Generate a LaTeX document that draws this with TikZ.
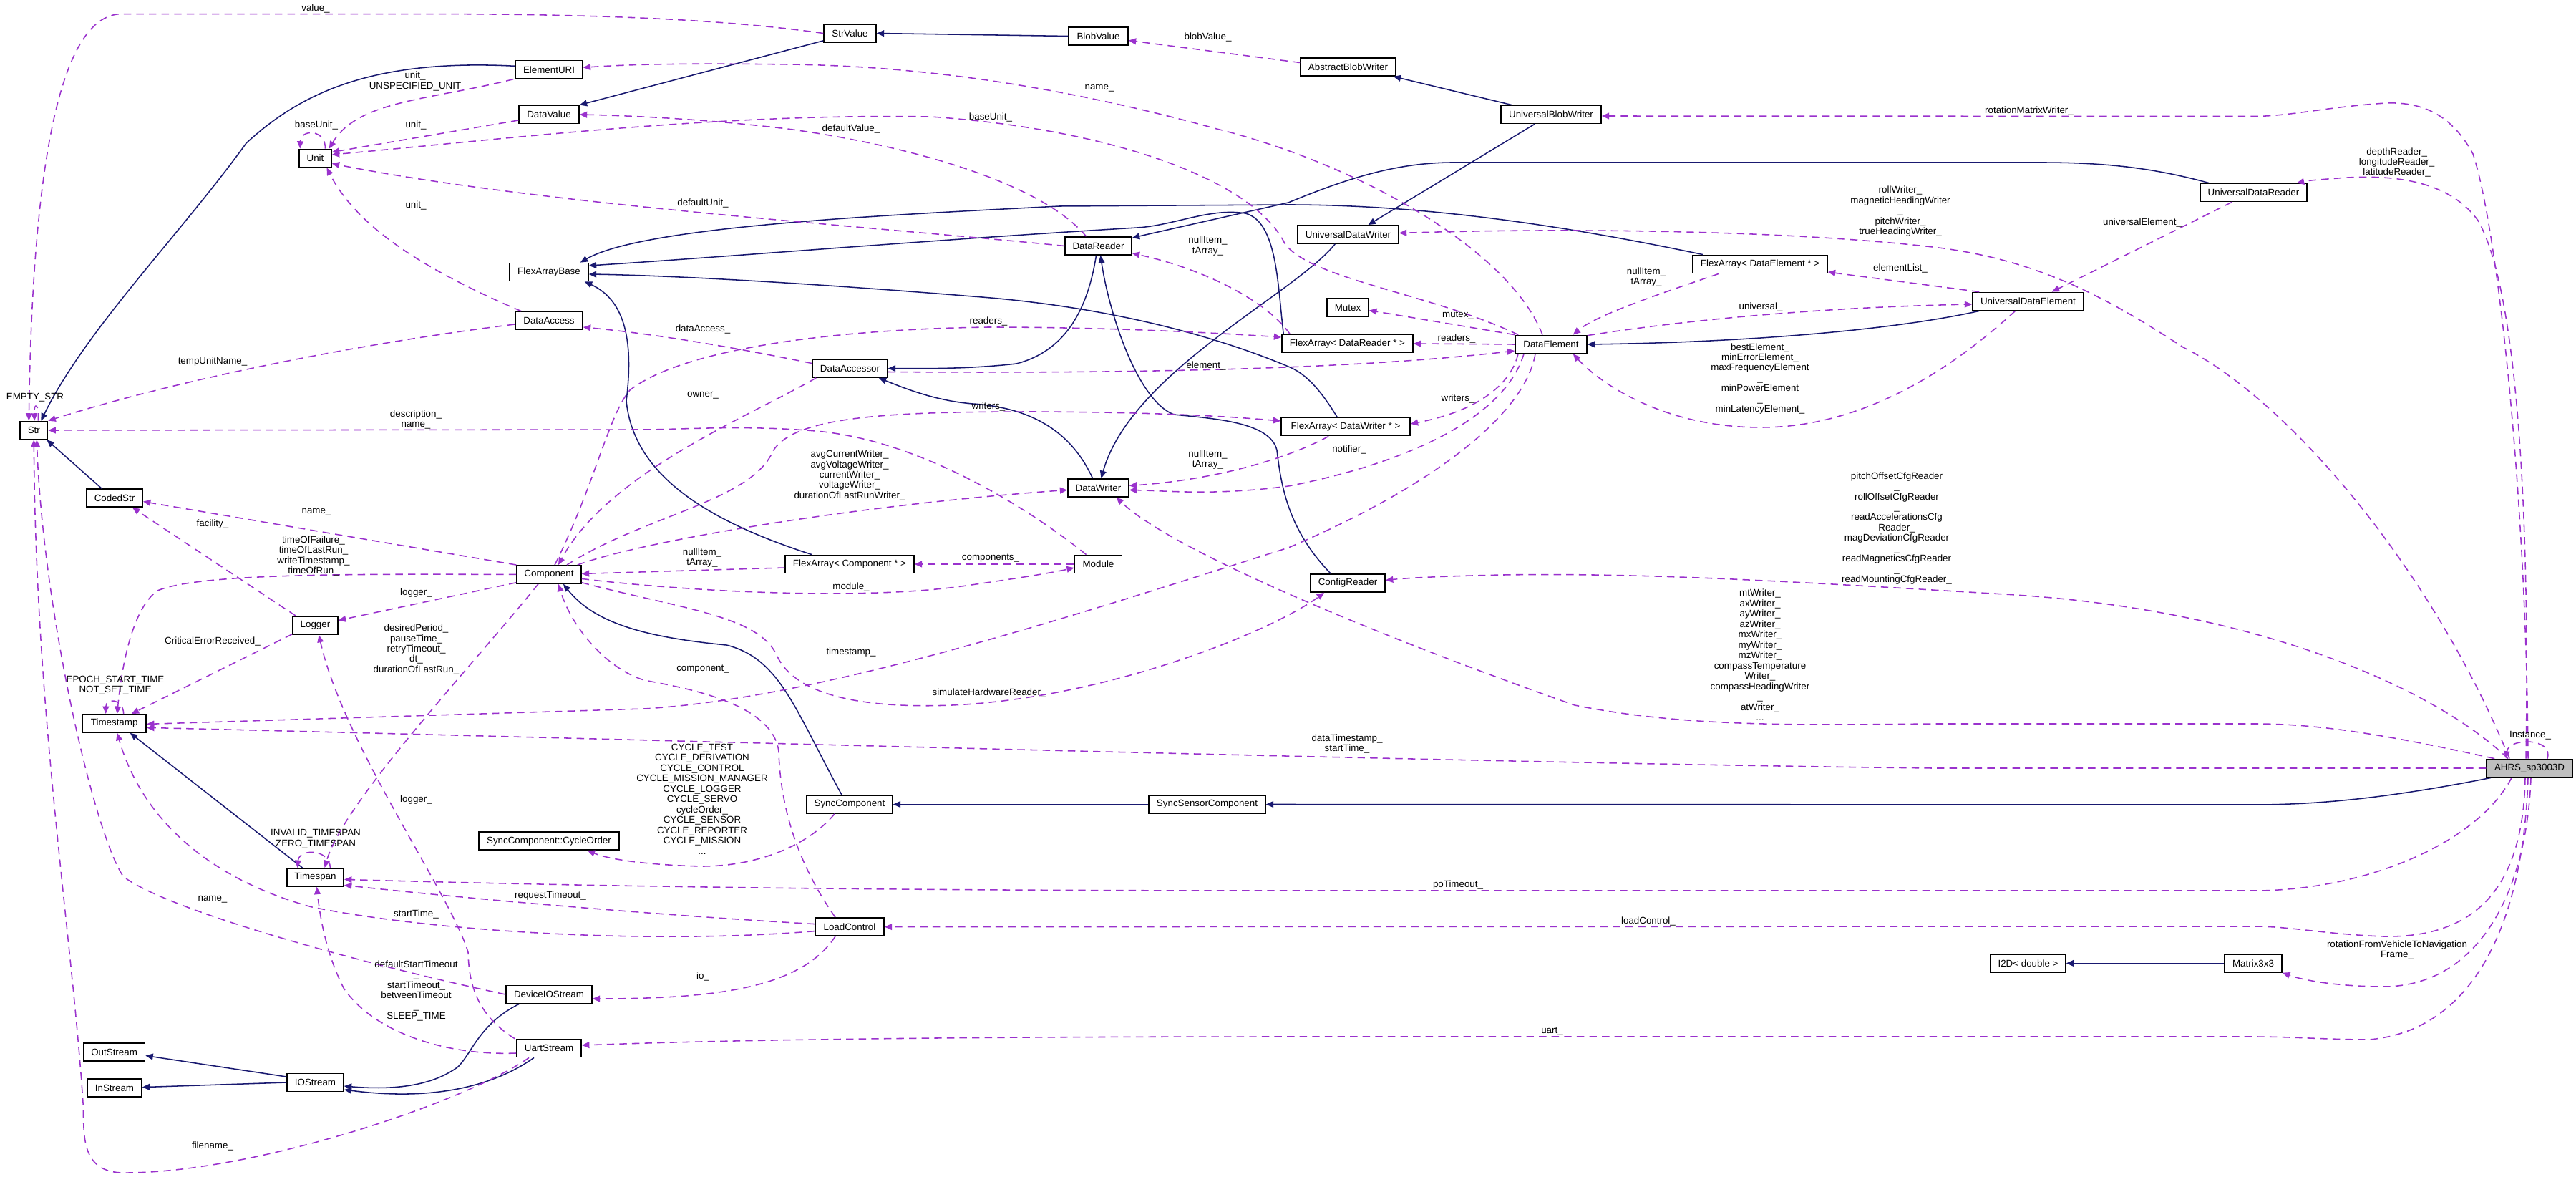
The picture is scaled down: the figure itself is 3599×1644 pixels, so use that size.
\documentclass[tikz,border=0pt]{standalone}
\usepackage{fontspec}
\setmainfont{Liberation Sans}
\usetikzlibrary{arrows.meta,calc}
\definecolor{inhcol}{HTML}{191970}
\definecolor{usecol}{HTML}{9A32CD}
\newcommand{\lblfont}{\fontsize{9.5}{10.3}\selectfont}
\tikzset{
  clsbox/.style={draw=black, line width=1.1pt, fill=white, minimum height=6.3mm, inner sep=0pt, font=\lblfont},
  inhr/.style={draw=inhcol, line width=1.1pt, -{Triangle[length=2.6mm,width=2.2mm]}},
  usg/.style={draw=usecol, line width=1.1pt, dash pattern=on 2.6mm off 1.8mm, -{Triangle[length=2.6mm,width=2.2mm]}},
  lbltxt/.style={font=\lblfont, align=center, inner sep=0pt},
}
\begin{document}
\begin{tikzpicture}[x=0.25mm, y=-0.25mm]
\fill[white] (0,0) rectangle (3599,1644);
\useasboundingbox (0,0) rectangle (3599,1644);

% ---------------- nodes ----------------
\node[clsbox, minimum width=23.5mm] (ElementURI) at (767,97.3) {ElementURI};
\node[clsbox, minimum width=21mm] (DataValue) at (767,160) {DataValue};
\node[clsbox, minimum width=11.25mm] (Unit) at (440.5,221) {Unit};
\node[clsbox, minimum width=27.5mm] (FlexArrayBase) at (767,380) {FlexArrayBase};
\node[clsbox, minimum width=23.5mm] (DataAccess) at (767,448) {DataAccess};
\node[clsbox, minimum width=9.65mm] (Str) at (47.3,601) {Str};
\node[clsbox, minimum width=18.25mm] (StrValue) at (1187.5,46.5) {StrValue};
\node[clsbox, minimum width=20.75mm] (BlobValue) at (1534.5,50.5) {BlobValue};
\node[clsbox, minimum width=23.25mm] (DataReader) at (1534.5,343.5) {DataReader};
\node[clsbox, minimum width=26.25mm] (DataAccessor) at (1187.5,514.5) {DataAccessor};
\node[clsbox, minimum width=33.25mm] (ABW) at (1883.5,93.5) {AbstractBlobWriter};
\node[clsbox, minimum width=35mm] (UBW) at (2167,160) {UniversalBlobWriter};
\node[clsbox, minimum width=35.25mm] (UDW) at (1883.5,327.5) {UniversalDataWriter};
\node[clsbox, minimum width=47mm] (FADE) at (2459,369) {FlexArray< DataElement * >};
\node[clsbox, minimum width=14.6mm] (Mutex) at (1883,429.5) {Mutex};
\node[clsbox, minimum width=45.75mm] (FADR) at (1882.5,480) {FlexArray< DataReader * >};
\node[clsbox, minimum width=25mm] (DataElement) at (2167,481) {DataElement};
\node[clsbox, minimum width=37.25mm] (UDR) at (3148.5,269) {UniversalDataReader};
\node[clsbox, minimum width=38.75mm] (UDE) at (2833.5,421) {UniversalDataElement};
\node[clsbox, minimum width=19.6mm] (CodedStr) at (160,695.6) {CodedStr};
\node[clsbox, minimum width=22.5mm] (Component) at (767,802.4) {Component};
\node[clsbox, minimum width=15.8mm] (Logger) at (440.5,873.5) {Logger};
\node[clsbox, minimum width=22.25mm] (Timestamp) at (159.7,1010.4) {Timestamp};
\node[clsbox, minimum width=21.25mm] (DataWriter) at (1534.5,681.4) {DataWriter};
\node[clsbox, minimum width=45mm] (FAC) at (1187,788) {FlexArray< Component * >};
\node[clsbox, minimum width=16.5mm] (Module) at (1534.5,788) {Module};
\node[clsbox, minimum width=30mm] (SyncComponent) at (1187,1123.5) {SyncComponent};
\node[clsbox, minimum width=40.75mm] (SSC) at (1686.5,1123.5) {SyncSensorComponent};
\node[clsbox, minimum width=24mm] (LoadControl) at (1187,1294.6) {LoadControl};
\node[clsbox, minimum width=45mm] (FADW) at (1880,596) {FlexArray< DataWriter * >};
\node[clsbox, minimum width=26.1mm] (ConfigReader) at (1883,814.4) {ConfigReader};
\node[clsbox, minimum width=30mm, fill=black!25] (AHRS) at (3534,1073) {AHRS\_sp3003D};
\node[clsbox, minimum width=49mm] (CycleOrder) at (767,1174.6) {SyncComponent::CycleOrder};
\node[clsbox, minimum width=19.85mm] (Timespan) at (440.5,1225.4) {Timespan};
\node[clsbox, minimum width=30mm] (DeviceIOStream) at (767,1389) {DeviceIOStream};
\node[clsbox, minimum width=22.6mm] (UartStream) at (767,1464) {UartStream};
\node[clsbox, minimum width=21.5mm] (OutStream) at (159.6,1469.5) {OutStream};
\node[clsbox, minimum width=19.75mm] (IOStream) at (440.5,1512) {IOStream};
\node[clsbox, minimum width=19mm] (InStream) at (160,1519.6) {InStream};
\node[clsbox, minimum width=26.25mm] (I2D) at (2833.5,1345.4) {I2D< double >};
\node[clsbox, minimum width=20.1mm] (Matrix) at (3148,1345.4) {Matrix3x3};

% ---------------- inheritance ----------------
\draw[inhr] ($(ElementURI.west)+(0,-5)$) .. controls (520,82) and (420,130) .. (344,200) .. controls (250,330) and (120,460) .. ($(Str.north)+(10,0)$);
\draw[inhr] ($(StrValue.south west)+(0,-3)$) -- (DataValue.north east);
\draw[inhr] (BlobValue.west) -- (StrValue.east);
\draw[inhr] ($(UBW.north west)+(16,0)$) -- ($(ABW.south east)+(-4,0)$);
\draw[inhr] ($(UBW.south)+(-23,0)$) -- ($(UDW.north)+(28,0)$);
\draw[inhr] ($(UDW.south west)+(53,0)$) .. controls (1810,410) and (1580,520) .. ($(DataWriter.north)+(4,0)$);
\draw[inhr] ($(UDR.north west)+(13,0)$) .. controls (3000,232) and (2930,227) .. (2850,227) -- (2030,227) .. controls (1950,227) and (1880,250) .. (1800,283) -- ($(DataReader.north east)+(0,2)$);
\draw[inhr] ($(UDE.south west)+(10,0)$) .. controls (2650,460) and (2450,478) .. (DataElement.east);
\draw[inhr] ($(FADE.north west)+(15,0)$) .. controls (2200,318) and (2000,286) .. (1800,286) -- (1480,288) .. controls (1250,300) and (900,315) .. ($(FlexArrayBase.north east)+(-12,0)$);
\draw[inhr] ($(FADR.north west)+(3,0)$) .. controls (1785,400) and (1785,310) .. (1740,298) .. controls (1690,290) and (1640,315) .. (1589,318) .. controls (1300,335) and (1000,360) .. ($(FlexArrayBase.east)+(0,-9)$);
\draw[inhr] ($(FADW.north west)+(79,0)$) .. controls (1845,545) and (1825,522) .. (1800,512) .. controls (1700,470) and (1550,428) .. (1359,414) .. controls (1150,397) and (950,385) .. ($(FlexArrayBase.east)+(0,3)$);
\draw[inhr] ($(FAC.north west)+(38,0)$) .. controls (980,725) and (885,660) .. (875,560) .. controls (885,480) and (875,420) .. ($(FlexArrayBase.south east)+(-6,0)$);
\draw[inhr] ($(ConfigReader.north west)+(29,0)$) .. controls (1800,740) and (1790,680) .. (1784,629) .. controls (1775,590) and (1700,585) .. (1640,579) .. controls (1590,560) and (1550,440) .. ($(DataReader.south)+(3,0)$);
\draw[inhr] ($(DataReader.south)+(-3,0)$) .. controls (1520,430) and (1490,490) .. (1420,508) .. controls (1360,515) and (1300,515) .. (DataAccessor.east);
\draw[inhr] ($(DataWriter.north)+(-8,0)$) .. controls (1500,610) and (1450,570) .. (1359,564) .. controls (1310,560) and (1270,545) .. ($(DataAccessor.south east)+(-13,0)$);
\draw[inhr] ($(SyncComponent.north)+(-11,0)$) .. controls (1110,990) and (1090,920) .. (1015,901) .. controls (900,890) and (830,870) .. ($(Component.south)+(20,0)$);
\draw[inhr] (SSC.west) -- (SyncComponent.east);
\draw[inhr] ($(AHRS.south west)+(7,0)$) .. controls (3350,1112) and (3250,1124) .. (3150,1124) -- (SSC.east);
\draw[inhr] ($(Timespan.north)+(-18,0)$) -- ($(Timestamp.south)+(22,0)$);
\draw[inhr] ($(CodedStr.north)+(-18,0)$) -- ($(Str.south east)+(-2,0)$);
\draw[inhr] ($(IOStream.west)+(0,-8)$) -- ($(OutStream.east)+(0,5)$);
\draw[inhr] (IOStream.west) -- ($(InStream.east)+(0,-1)$);
\draw[inhr] ($(DeviceIOStream.south west)+(19,0)$) .. controls (670,1430) and (660,1470) .. (640,1490) .. controls (600,1520) and (540,1522) .. ($(IOStream.east)+(0,5)$);
\draw[inhr] ($(UartStream.south west)+(25,0)$) .. controls (700,1510) and (620,1540) .. ($(IOStream.east)+(0,10)$);
\draw[inhr] (Matrix.west) -- (I2D.east);

% ---------------- usage ----------------
\draw[usg] (StrValue.west) .. controls (1000,25) and (800,19.6) .. (600,19.6) -- (170,19.6) .. controls (80,19.6) and (45,250) .. ($(Str.north)+(-7,0)$);
\draw[usg] ($(Str.north)+(6,0)$) .. controls (55,562) and (47,562) .. ($(Str.north)+(1,0)$);
\draw[usg] ($(DataAccess.west)+(0,5)$) .. controls (500,480) and (250,530) .. (Str.north east);
\draw[usg] ($(Module.north)+(-17,0)$) .. controls (1450,720) and (1300,620) .. (1150,603) .. controls (1050,593) and (950,600) .. (900,600) -- (Str.east);
\draw[usg] ($(UartStream.south west)+(18,0)$) .. controls (650,1540) and (350,1640) .. (170,1638) .. controls (110,1636) and (118,1580) .. (116,1540) .. controls (100,1300) and (50,1000) .. (Str.south);
\draw[usg] (DeviceIOStream.west) .. controls (500,1345) and (230,1270) .. (172,1224) .. controls (130,1160) and (60,850) .. ($(Str.south)+(4,0)$);
\draw[usg] (Component.north west) -- ($(CodedStr.east)+(0,5)$);
\draw[usg] ($(Logger.north west)+(5,0)$) -- ($(CodedStr.south east)+(-15,0)$);
\draw[usg] (Component.west) .. controls (500,802) and (280,800) .. (220,825) .. controls (185,850) and (170,930) .. ($(Timestamp.north)+(4,0)$);
\draw[usg] ($(Logger.south west)+(0,-1)$) -- ($(Timestamp.north)+(24,0)$);
\draw[usg] ($(Timestamp.north)+(13,0)$) .. controls (172,975) and (148,975) .. ($(Timestamp.north)+(-12,0)$);
\draw[usg] ($(Component.south west)+(0,-2)$) -- ($(Logger.east)+(0,-7)$);
\draw[usg] ($(UartStream.north west)+(-2,0)$) .. controls (670,1420) and (655,1380) .. (654,1330) .. controls (630,1250) and (480,1040) .. ($(Logger.south)+(5,0)$);
\draw[usg] ($(Component.south)+(-15,0)$) .. controls (660,930) and (480,1120) .. ($(Timespan.north)+(13,0)$);
\draw[usg] ($(Timespan.north)+(21,0)$) .. controls (460,1185) and (418,1185) .. ($(Timespan.north)+(-25,0)$);
\draw[usg] ($(AHRS.south)+(-25,0)$) .. controls (3460,1180) and (3300,1244) .. (3150,1244) -- (1800,1244) .. controls (1300,1244) and (900,1240) .. ($(Timespan.east)+(0,3)$);
\draw[usg] ($(LoadControl.west)+(0,-4)$) .. controls (950,1280) and (700,1260) .. ($(Timespan.east)+(0,11)$);
\draw[usg] ($(LoadControl.west)+(0,6)$) .. controls (900,1320) and (600,1300) .. (436,1267) .. controls (300,1230) and (200,1150) .. ($(Timestamp.south)+(4,0)$);
\draw[usg] ($(DataElement.south)+(-22,0)$) .. controls (2130,580) and (2000,680) .. (1800,765) .. controls (1500,860) and (1150,975) .. (900,990) -- ($(Timestamp.east)+(0,1)$);
\draw[usg] (AHRS.west) -- (2700,1073) .. controls (2000,1065) and (800,1030) .. ($(Timestamp.east)+(0,6)$);
\draw[usg] ($(DataElement.south)+(-38,0)$) .. controls (2100,590) and (1950,650) .. (1800,679) .. controls (1700,692) and (1640,686) .. ($(DataWriter.east)+(0,3)$);
\draw[usg] ($(DataElement.south)+(-46,0)$) .. controls (2110,540) and (2060,575) .. ($(FADW.east)+(0,-4)$);
\draw[usg] ($(FADW.south west)+(67,0)$) .. controls (1800,640) and (1700,670) .. ($(DataWriter.east)+(0,-3)$);
\draw[usg] ($(Component.north east)+(-6,0)$) .. controls (900,755) and (1200,705) .. ($(DataWriter.west)+(0,3)$);
\draw[usg] ($(Component.north)+(25,0)$) .. controls (900,720) and (1050,700) .. (1080,630) .. controls (1110,580) and (1250,575) .. (1450,575) .. controls (1600,576) and (1700,580) .. ($(FADW.west)+(0,-8)$);
\draw[usg] ($(Component.north)+(8,0)$) .. controls (830,680) and (850,580) .. (880,545) .. controls (950,490) and (1150,460) .. (1381,457) .. controls (1550,457) and (1700,465) .. ($(FADR.west)+(0,-9)$);
\draw[usg] ($(DataAccessor.south west)+(6,0)$) .. controls (1050,580) and (850,660) .. ($(Component.north)+(13,0)$);
\draw[usg] ($(FAC.west)+(0,5)$) -- ($(Component.east)+(0,-1)$);
\draw[usg] ($(Component.east)+(0,6)$) .. controls (950,825) and (1200,840) .. (1350,818) .. controls (1420,808) and (1470,800) .. ($(Module.west)+(0,5)$);
\draw[usg] (Module.west) -- (FAC.east);
\draw[usg] ($(Component.south east)+(0,-2)$) .. controls (950,850) and (1060,860) .. (1085,915) .. controls (1110,970) and (1200,990) .. (1330,985) .. controls (1550,975) and (1780,880) .. ($(ConfigReader.south west)+(20,0)$);
\draw[usg] ($(LoadControl.north)+(-20,0)$) .. controls (1110,1200) and (1090,1120) .. (1088,1050) .. controls (1080,980) and (950,960) .. (900,950) .. controls (850,935) and (800,880) .. ($(Component.south)+(13,0)$);
\draw[usg] ($(SyncComponent.south)+(-21,0)$) .. controls (1130,1180) and (1060,1210) .. (980,1210) .. controls (900,1208) and (850,1200) .. ($(CycleOrder.south east)+(-45,0)$);
\draw[usg] ($(AHRS.south)+(-6,0)$) .. controls (3525,1250) and (3450,1310) .. (3330,1308) .. controls (3250,1305) and (3200,1294) .. (3150,1294) -- (LoadControl.east);
\draw[usg] ($(AHRS.south)+(-2,0)$) .. controls (3525,1300) and (3450,1440) .. (3310,1452) .. controls (3250,1452) and (3200,1448) .. (3150,1448) -- (1800,1448) .. controls (1200,1448) and (950,1455) .. ($(UartStream.east)+(0,-4)$);
\draw[usg] ($(AHRS.south)+(2,0)$) .. controls (3530,1250) and (3460,1378) .. (3330,1378) .. controls (3270,1378) and (3220,1370) .. (Matrix.south east);
\draw[usg] ($(AHRS.north)+(25,0)$) .. controls (3568,1030) and (3505,1030) .. ($(AHRS.north)+(-33,0)$);
\draw[usg] ($(AHRS.north west)+(12,0)$) .. controls (3350,1030) and (3250,1011) .. (3150,1011) -- (2700,1011) .. controls (2500,1013) and (2350,1015) .. (2200,985) .. controls (2000,915) and (1650,780) .. ($(DataWriter.south)+(25,0)$);
\draw[usg] ($(AHRS.north)+(-30,0)$) .. controls (3400,960) and (3150,850) .. (2800,830) .. controls (2500,812) and (2300,800) .. (2100,803) .. controls (2000,805) and (1960,808) .. ($(ConfigReader.east)+(0,-4)$);
\draw[usg] ($(AHRS.north)+(-28,0)$) .. controls (3400,800) and (3200,560) .. (3050,485) .. controls (2950,420) and (2850,362) .. (2700,345) .. controls (2500,322) and (2200,318) .. ($(UDW.east)+(0,-2)$);
\draw[usg] ($(AHRS.north)+(-2,0)$) .. controls (3530,700) and (3490,320) .. (3455,215) .. controls (3420,150) and (3370,140) .. (3320,145) .. controls (3250,150) and (3200,162) .. (3150,162.5) -- ($(UBW.east)+(0,2)$);
\draw[usg] ($(AHRS.north)+(-5,0)$) .. controls (3535,700) and (3515,400) .. (3462,308) .. controls (3420,250) and (3340,245) .. (3280,248) .. controls (3250,250) and (3225,252) .. ($(UDR.north east)+(-15,0)$);
\draw[usg] ($(UDR.south west)+(45,0)$) -- ($(UDE.north east)+(-45,0)$);
\draw[usg] ($(UDE.north west)+(10,0)$) -- ($(FADE.east)+(0,11)$);
\draw[usg] ($(DataElement.north east)+(0,1)$) .. controls (2400,440) and (2600,428) .. ($(UDE.west)+(0,4)$);
\draw[usg] ($(UDE.south)+(-18,0)$) .. controls (2700,540) and (2580,597) .. (2460,597) .. controls (2330,597) and (2240,540) .. ($(DataElement.south east)+(-20,0)$);
\draw[usg] ($(FADE.south west)+(37,0)$) .. controls (2320,410) and (2230,440) .. ($(DataElement.north east)+(-20,0)$);
\draw[usg] (DataElement.north west) -- ($(Mutex.east)+(0,4)$);
\draw[usg] (DataElement.west) -- (FADR.east);
\draw[usg] ($(DataAccessor.east)+(0,5)$) .. controls (1600,522) and (1900,515) .. ($(DataElement.west)+(0,9)$);
\draw[usg] ($(DataElement.north)+(-12,0)$) .. controls (2110,350) and (1900,230) .. (1700,180) .. controls (1500,125) and (1300,92) .. (1100,90) .. controls (950,88) and (880,90) .. ($(ElementURI.east)+(0,-3)$);
\draw[usg] ($(DataElement.north west)+(5,0)$) .. controls (2000,410) and (1830,390) .. (1795,340) .. controls (1750,250) and (1550,180) .. (1300,163) .. controls (1000,158) and (700,195) .. ($(Unit.east)+(0,-5)$);
\draw[usg] (DataReader.west) .. controls (1200,315) and (750,285) .. ($(Unit.east)+(0,7.5)$);
\draw[usg] ($(DataReader.north)+(-17,0)$) .. controls (1450,250) and (1250,200) .. (1100,180) .. controls (1000,168) and (900,162) .. (DataValue.east);
\draw[usg] ($(DataValue.west)+(0,8)$) -- ($(Unit.east)+(0,-8.5)$);
\draw[usg] ($(ElementURI.south west)+(-2,0)$) .. controls (600,140) and (500,140) .. ($(Unit.north east)+(-4,0)$);
\draw[usg] ($(Unit.north)+(14,0)$) .. controls (455,180) and (420,180) .. ($(Unit.north west)+(2,0)$);
\draw[usg] ($(DataAccess.north west)+(9,0)$) .. controls (600,380) and (500,320) .. ($(Unit.south)+(16,0)$);
\draw[usg] ($(DataAccessor.west)+(0,-7)$) .. controls (1000,480) and (900,465) .. ($(DataAccess.east)+(0,9)$);
\draw[usg] ($(FADR.north west)+(12,0)$) .. controls (1770,420) and (1680,375) .. ($(DataReader.south east)+(0,-3)$);
\draw[usg] ($(UartStream.west)+(0,7)$) .. controls (620,1475) and (520,1440) .. (480,1380) .. controls (455,1330) and (447,1280) .. ($(Timespan.south)+(2,0)$);
\draw[usg] ($(LoadControl.south)+(-20,0)$) .. controls (1120,1380) and (1000,1395) .. ($(DeviceIOStream.east)+(0,6)$);
\draw[usg] ($(ABW.west)+(0,-6)$) -- ($(BlobValue.east)+(0,6)$);

% ---------------- labels ----------------
\node[lbltxt] (t01) at (441,12) {value\_};
\node[lbltxt] (t02) at (580,113.5) {unit\_\\UNSPECIFIED\_UNIT};
\node[lbltxt] (t03) at (442,175) {baseUnit\_};
\node[lbltxt] (t04) at (581,175) {unit\_};
\node[lbltxt] (t05) at (581,287) {unit\_};
\node[lbltxt] (t06) at (297,505) {tempUnitName\_};
\node[lbltxt] (t07) at (49,555) {EMPTY\_STR};
\node[lbltxt] (t08) at (1687.5,52) {blobValue\_};
\node[lbltxt] (t09) at (1536,123) {name\_};
\node[lbltxt] (t10) at (1384,164) {baseUnit\_};
\node[lbltxt] (t11) at (1189,180) {defaultValue\_};
\node[lbltxt] (t12) at (982,284) {defaultUnit\_};
\node[lbltxt] (t13) at (1687.5,343.5) {nullItem\_\\tArray\_};
\node[lbltxt] (t14) at (1381,449) {readers\_};
\node[lbltxt] (t15) at (982,460) {dataAccess\_};
\node[lbltxt] (t16) at (1685,511) {element\_};
\node[lbltxt] (t17) at (982,552) {owner\_};
\node[lbltxt] (t18) at (2835,154.6) {rotationMatrixWriter\_};
\node[lbltxt] (t19) at (3348.6,227) {depthReader\_\\longitudeReader\_\\latitudeReader\_};
\node[lbltxt] (t20) at (2993,311) {universalElement\_};
\node[lbltxt] (t21) at (2655,295.5) {rollWriter\_\\magneticHeadingWriter\\\_\\pitchWriter\_\\trueHeadingWriter\_};
\node[lbltxt] (t22) at (2300,387) {nullItem\_\\tArray\_};
\node[lbltxt] (t23) at (2655,375) {elementList\_};
\node[lbltxt] (t24) at (2460,428.6) {universal\_};
\node[lbltxt] (t25) at (2037,441) {mutex\_};
\node[lbltxt] (t26) at (2035,473) {readers\_};
\node[lbltxt] (t27) at (2459,529) {bestElement\_\\minErrorElement\_\\maxFrequencyElement\\\_\\minPowerElement\\\_\\minLatencyElement\_};
\node[lbltxt] (t28) at (2037,557) {writers\_};
\node[lbltxt] (t29) at (1885,627.5) {notifier\_};
\node[lbltxt] (t30) at (581,586) {description\_\\name\_};
\node[lbltxt] (t31) at (442,715) {name\_};
\node[lbltxt] (t32) at (297,732) {facility\_};
\node[lbltxt] (t33) at (438,776.5) {timeOfFailure\_\\timeOfLastRun\_\\writeTimestamp\_\\timeOfRun\_};
\node[lbltxt] (t34) at (581.5,828) {logger\_};
\node[lbltxt] (t35) at (581.5,907) {desiredPeriod\_\\pauseTime\_\\retryTimeout\_\\dt\_\\durationOfLastRun\_};
\node[lbltxt] (t36) at (297,895.6) {CriticalErrorReceived\_};
\node[lbltxt] (t37) at (161,957) {EPOCH\_START\_TIME\\NOT\_SET\_TIME};
\node[lbltxt] (t38) at (1381,567.5) {writers\_};
\node[lbltxt] (t39) at (1187,664) {avgCurrentWriter\_\\avgVoltageWriter\_\\currentWriter\_\\voltageWriter\_\\durationOfLastRunWriter\_};
\node[lbltxt] (t40) at (1687.5,642) {nullItem\_\\tArray\_};
\node[lbltxt] (t41) at (981,779) {nullItem\_\\tArray\_};
\node[lbltxt] (t42) at (1384,780) {components\_};
\node[lbltxt] (t43) at (1189,819.6) {module\_};
\node[lbltxt] (t44) at (1189,911) {timestamp\_};
\node[lbltxt] (t45) at (982,934.6) {component\_};
\node[lbltxt] (t46) at (1382,967.5) {simulateHardwareReader\_};
\node[lbltxt] (t47) at (981,1116) {CYCLE\_TEST\\CYCLE\_DERIVATION\\CYCLE\_CONTROL\\CYCLE\_MISSION\_MANAGER\\CYCLE\_LOGGER\\CYCLE\_SERVO\\cycleOrder\_\\CYCLE\_SENSOR\\CYCLE\_REPORTER\\CYCLE\_MISSION\\...};
\node[lbltxt] (t48) at (982,1364) {io\_};
\node[lbltxt] (t49) at (2650,738) {pitchOffsetCfgReader\\\_\\rollOffsetCfgReader\\\_\\readAccelerationsCfg\\Reader\_\\magDeviationCfgReader\\\_\\readMagneticsCfgReader\\\_\\readMountingCfgReader\_};
\node[lbltxt] (t50) at (2459,915) {mtWriter\_\\axWriter\_\\ayWriter\_\\azWriter\_\\mxWriter\_\\myWriter\_\\mzWriter\_\\compassTemperature\\Writer\_\\compassHeadingWriter\\\_\\atWriter\_\\...};
\node[lbltxt] (t51) at (1882,1039) {dataTimestamp\_\\startTime\_};
\node[lbltxt] (t52) at (3535,1027.5) {Instance\_};
\node[lbltxt] (t53) at (581.5,1117) {logger\_};
\node[lbltxt] (t54) at (441,1171.5) {INVALID\_TIMESPAN\\ZERO\_TIMESPAN};
\node[lbltxt] (t55) at (769,1251) {requestTimeout\_};
\node[lbltxt] (t56) at (297,1256) {name\_};
\node[lbltxt] (t57) at (581.5,1276.5) {startTime\_};
\node[lbltxt] (t58) at (581.5,1384) {defaultStartTimeout\\\_\\startTimeout\_\\betweenTimeout\\\_\\SLEEP\_TIME};
\node[lbltxt] (t59) at (297,1601) {filename\_};
\node[lbltxt] (t60) at (2037,1236) {poTimeout\_};
\node[lbltxt] (t61) at (2303,1286.5) {loadControl\_};
\node[lbltxt] (t62) at (2168.5,1440) {uart\_};
\node[lbltxt] (t63) at (3349,1327) {rotationFromVehicleToNavigation\\Frame\_};
\end{tikzpicture}
\end{document}
